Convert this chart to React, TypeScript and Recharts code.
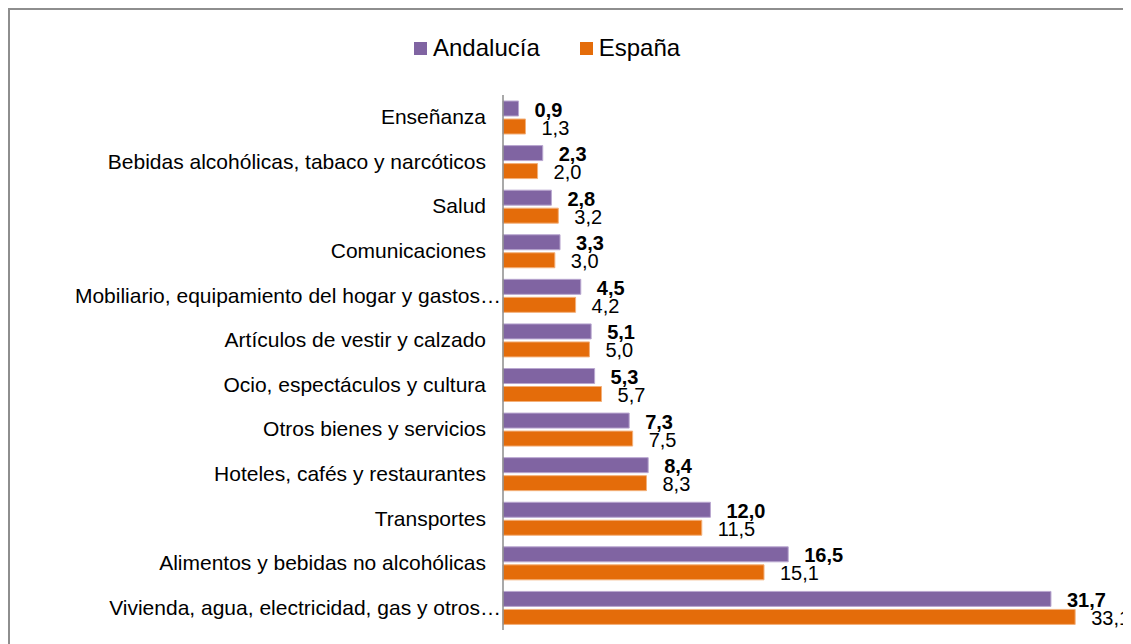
import React from 'react';
import { BarChart, Bar, XAxis, YAxis, LabelList } from 'recharts';

const categories = [
    'Enseñanza',
    'Bebidas alcohólicas, tabaco y narcóticos',
    'Salud',
    'Comunicaciones',
    'Mobiliario, equipamiento del hogar y gastos…',
    'Artículos de vestir y calzado',
    'Ocio, espectáculos y cultura',
    'Otros bienes y servicios',
    'Hoteles, cafés y restaurantes',
    'Transportes',
    'Alimentos y bebidas no alcohólicas',
    'Vivienda, agua, electricidad, gas y otros…',
];

const andalucia = [0.9, 2.3, 2.8, 3.3, 4.5, 5.1, 5.3, 7.3, 8.4, 12.0, 16.5, 31.7];
const espana = [1.3, 2.0, 3.2, 3.0, 4.2, 5.0, 5.7, 7.5, 8.3, 11.5, 15.1, 33.1];

const seriesNames = ['Andalucía', 'España'];
const colors = ['#8064A2', '#E46C0A'];
const strokes = ['#b9a7d0', '#f3b07a'];

const data = categories.map((name, i) => ({
    name,
    andalucia: andalucia[i],
    espana: espana[i],
}));

const FONT = '"Liberation Sans", Arial, sans-serif';

const fmt = (v: number) => v.toFixed(1).replace('.', ',');

const CategoryTick: React.FC<any> = ({ y, payload }) => {
    const label: string = payload.value;
    const x = label.endsWith('…') ? 491 : 476;
    return (
        <text x={x} y={y} dy={7} textAnchor="end" fontSize={21} fill="#000" fontFamily={FONT}>
            {label}
        </text>
    );
};

const makeLabel = (bold: boolean) => (props: any) => {
    const { x, y, width, height, value } = props;
    return (
        <text
            x={x + width + 16}
            y={y + height / 2 + 8}
            fontSize={20}
            fontWeight={bold ? 'bold' : 'normal'}
            fill="#000"
            fontFamily={FONT}
        >
            {fmt(value)}
        </text>
    );
};

const App: React.FC = () => {
    return (
        <>
            <style>{'html, body { overflow: hidden; }'}</style>
            <div
                style={{
                    position: 'relative',
                    width: 1123,
                    height: 636,
                    boxSizing: 'border-box',
                    borderLeft: '2px solid #8e8e8e',
                    borderTop: '2px solid #8e8e8e',
                    background: '#fff',
                }}
            >
                {/* legend */}
                <div
                    style={{
                        position: 'absolute',
                        top: 24,
                        left: 404,
                        display: 'flex',
                        alignItems: 'center',
                        fontFamily: FONT,
                        fontSize: 24,
                        color: '#000',
                    }}
                >
                    {seriesNames.map((n, i) => (
                        <div key={n} style={{ display: 'flex', alignItems: 'center', marginRight: 40 }}>
                            <span style={{ width: 13, height: 13, background: colors[i], marginRight: 6, display: 'inline-block' }} />
                            <span>{n}</span>
                        </div>
                    ))}
                </div>
                <BarChart
                    width={1121}
                    height={634}
                    data={data}
                    layout="vertical"
                    margin={{ top: 85, right: 23, bottom: 14, left: 0 }}
                    barSize={15}
                    barGap={3}
                    style={{ overflow: 'visible' }}
                >
                    <XAxis type="number" domain={[0, 35]} hide />
                    <YAxis
                        type="category"
                        dataKey="name"
                        width={493}
                        interval={0}
                        tickLine={false}
                        axisLine={{ stroke: '#8c8c8c', strokeWidth: 1.5 }}
                        tick={<CategoryTick />}
                    />
                    <Bar dataKey="andalucia" name={seriesNames[0]} fill={colors[0]} stroke={strokes[0]} strokeWidth={1} isAnimationActive={false}>
                        <LabelList dataKey="andalucia" content={makeLabel(true)} />
                    </Bar>
                    <Bar dataKey="espana" name={seriesNames[1]} fill={colors[1]} stroke={strokes[1]} strokeWidth={1} isAnimationActive={false}>
                        <LabelList dataKey="espana" content={makeLabel(false)} />
                    </Bar>
                </BarChart>
            </div>
        </>
    );
};

export default App;
